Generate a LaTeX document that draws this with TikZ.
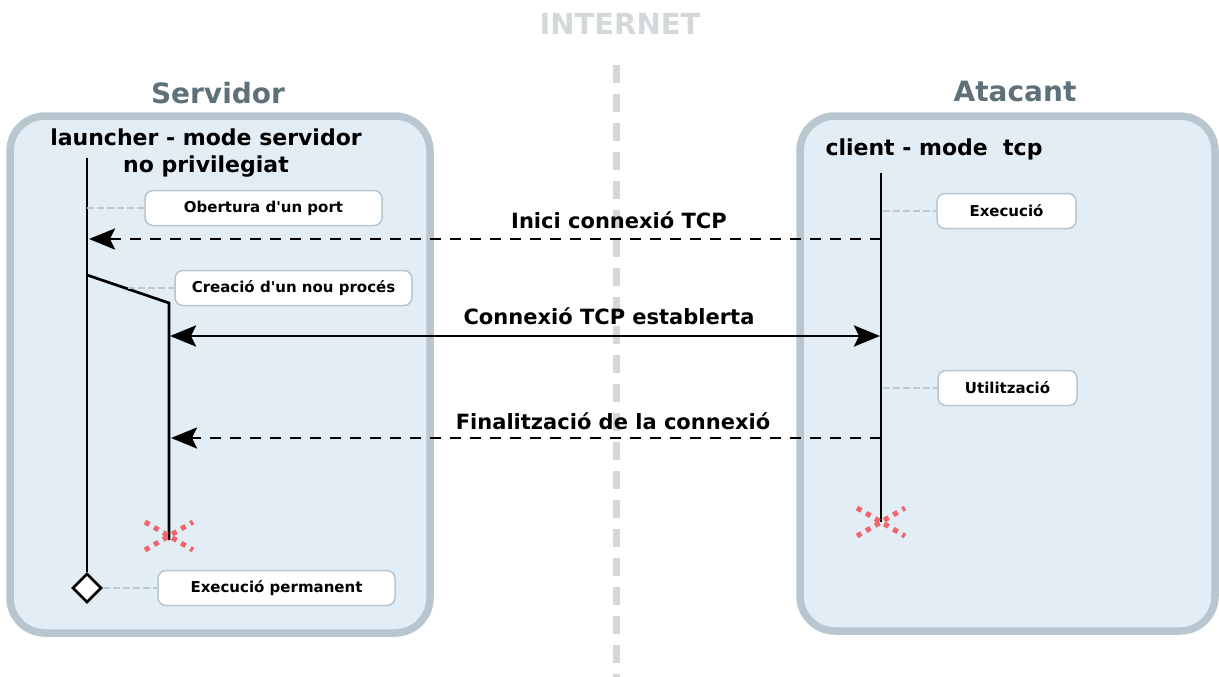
\documentclass[tikz,border=0pt]{standalone}
\usepackage{fontspec}
\setmainfont{DejaVu Sans}[Ligatures=TeXOff]
\usetikzlibrary{arrows.meta,shapes.geometric}
\definecolor{panelfill}{HTML}{E2EDF5}
\definecolor{panelline}{HTML}{B7C6CF}
\definecolor{titlecol}{HTML}{5E7179}
\definecolor{netcol}{HTML}{D3D8DA}
\definecolor{killcol}{HTML}{F0646A}
\definecolor{linkcol}{HTML}{BCC8D0}
\newcommand{\fs}[1]{\fontsize{#1}{#1}\selectfont\bfseries}
\tikzset{
  panel/.style={draw=panelline, fill=panelfill, line width=7.5pt, rounded corners=35pt},
  paneltitle/.style={text=titlecol, font=\fs{28}},
  actor/.style={font=\fs{22}, align=center, inner sep=0pt},
  note/.style={draw=panelline, fill=white, line width=1.5pt, rounded corners=8pt,
    minimum height=35pt, font=\fs{15}, inner sep=0pt},
  lifeline/.style={line width=2.7pt},
  msg/.style={line width=2.7pt, -{Stealth[length=26pt,width=21pt,inset=5pt]}},
  biway/.style={line width=2.7pt, {Stealth[length=26pt,width=21pt,inset=5pt]}-{Stealth[length=26pt,width=21pt,inset=5pt]}},
  async/.style={dash pattern=on 11pt off 9pt},
  msglabel/.style={font=\fs{21}, inner sep=0pt},
  link/.style={draw=linkcol, line width=2pt, dash pattern=on 7pt off 3pt},
  kill/.style={draw=killcol, line width=5pt, dash pattern=on 5pt off 5.5pt},
  netline/.style={draw=netcol, line width=7pt, dash pattern=on 18pt off 11pt},
  endstate/.style={shape=diamond, draw, fill=white, line width=2.7pt, minimum size=29pt, inner sep=0pt}
}
\begin{document}
\begin{tikzpicture}[x=1pt,y=-1pt]
\useasboundingbox (0,0) rectangle (1219,677);

% network divide
\node[text=netcol, font=\fs{29}] (internet) at (620,24) {INTERNET};
\coordinate (nettop) at (616,65);
\coordinate (netbot) at (616,677);
\draw[netline] (nettop) -- (netbot);

% panels
\draw[panel] (10,116) rectangle (430,633);
\draw[panel] (800,116) rectangle (1215,631);
\node[paneltitle] (servidor) at (218,93) {Servidor};
\node[paneltitle] (atacant) at (1015,91) {Atacant};

% actors
\node[actor] (launcher) at (206,153) {launcher - mode servidor\\[5pt]no privilegiat};
\node[actor] (client) at (934,149) {client - mode\ \ tcp};

% server lifelines
\coordinate (ltop) at (87,158);
\node[endstate] (lend) at (87,588) {};
\draw[lifeline] (ltop) -- (lend.north);
\coordinate (fork) at (87,275);
\coordinate (ctop) at (169,303);
\coordinate (cend) at (169,540);
\draw[lifeline] (fork) -- (ctop) -- (cend);

% client lifeline
\coordinate (atop) at (881,173);
\coordinate (aend) at (881,522);
\draw[lifeline] (atop) -- (aend);

% termination marks
\draw[kill] (145,522) -- (193,550);
\draw[kill] (145,550) -- (193,522);
\draw[kill] (857,508) -- (905,536);
\draw[kill] (857,536) -- (905,508);

% messages
\coordinate (m1a) at (881,239); \coordinate (m1b) at (89,239);
\draw[msg,async] (m1a) -- (m1b);
\node[msglabel] (m1l) at (619,220) {Inici connexió TCP};

\coordinate (m2a) at (170,336); \coordinate (m2b) at (880,336);
\draw[biway] (m2a) -- (m2b);
\node[msglabel] (m2l) at (609,316) {Connexió TCP establerta};

\coordinate (m3a) at (881,438); \coordinate (m3b) at (171,438);
\draw[msg,async] (m3a) -- (m3b);
\node[msglabel] (m3l) at (613,421) {Finalització de la connexió};

% notes
\node[note, minimum width=237pt] (n1) at (263.5,208) {Obertura d'un port};
\coordinate (n1a) at (87,208);
\draw[link] (n1a) -- (n1.west);

\node[note, minimum width=237pt] (n2) at (293.5,288) {Creació d'un nou procés};
\coordinate (n2a) at (128,288);
\draw[link] (n2a) -- (n2.west);

\node[note, minimum width=237pt] (n3) at (276.5,588) {Execució permanent};
\draw[link] (lend.east) -- (n3.west);

\node[note, minimum width=139pt] (n4) at (1006.5,211) {Execució};
\coordinate (n4a) at (883,211);
\draw[link] (n4a) -- (n4.west);

\node[note, minimum width=139pt] (n5) at (1007.5,388) {Utilització};
\coordinate (n5a) at (883,388);
\draw[link] (n5a) -- (n5.west);
\end{tikzpicture}
\end{document}
